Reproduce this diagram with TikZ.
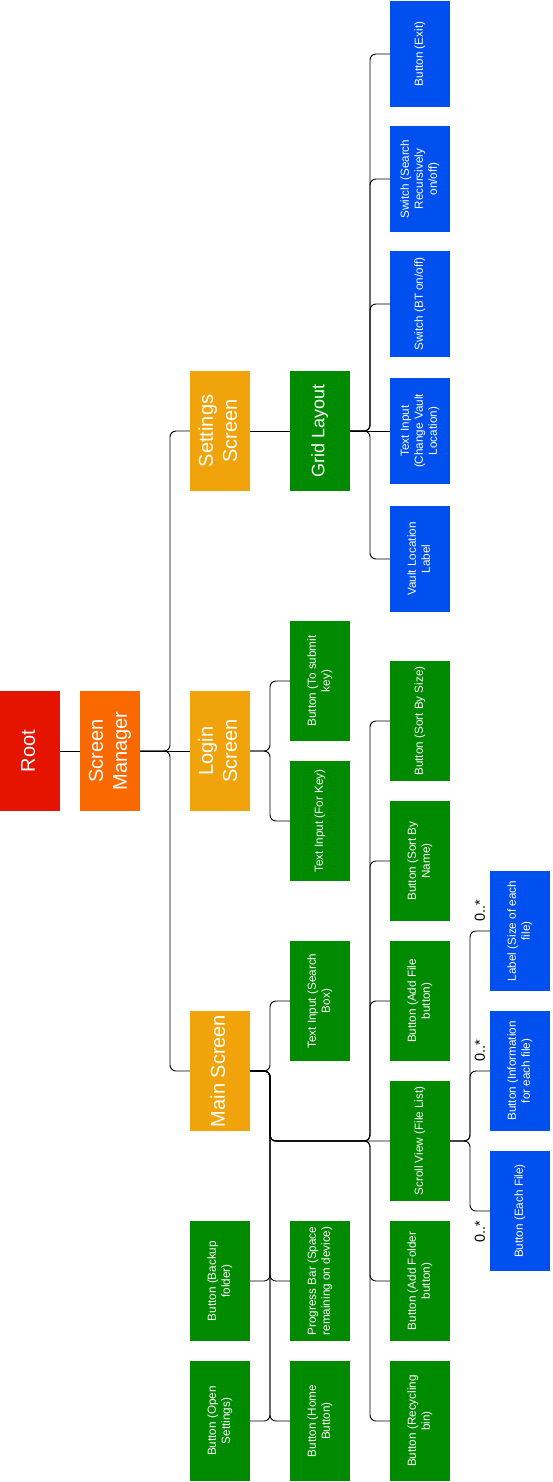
\documentclass[tikz,border=0pt]{standalone}
\usepackage{fontspec}
\setmainfont{Liberation Sans}
\usepackage{graphicx}
\definecolor{cRed}{HTML}{E51400}
\definecolor{cOrange}{HTML}{FA6800}
\definecolor{cAmber}{HTML}{F0A30A}
\definecolor{cGreen}{HTML}{008A00}
\definecolor{cBlue}{HTML}{0050EF}
\newcommand{\rtext}[1]{\rotatebox{90}{\begin{tabular}{@{}c@{}}#1\end{tabular}}}
\tikzset{
  box/.style={inner sep=0pt, outer sep=0pt, minimum width=60pt, minimum height=120pt, text=white, font=\fontsize{11.7}{14}\selectfont},
  short/.style={minimum height=106pt},
  big/.style={font=\fontsize{20}{24}\selectfont},
  mid/.style={font=\fontsize{18}{22}\selectfont},
  redbox/.style={box, fill=cRed},
  orangebox/.style={box, fill=cOrange},
  amberbox/.style={box, fill=cAmber},
  greenbox/.style={box, fill=cGreen},
  bluebox/.style={box, fill=cBlue},
  link/.style={draw=black, line width=0.9pt, rounded corners=6pt},
  mult/.style={inner sep=0pt, font=\fontsize{14.5}{17}\selectfont, text=black}
}
\begin{document}
\begin{tikzpicture}[x=1pt, y=-1pt]
\useasboundingbox (0,0) rectangle (552,1482);
% column 0/1
\node[redbox, big] (root) at (30,751) {\rtext{Root}};
\node[orangebox, big] (sm) at (110,751) {\rtext{Screen\\Manager}};
% column 2
\node[amberbox, big] (settings) at (220,431) {\rtext{Settings\\Screen}};
\node[amberbox, big] (login) at (220,751) {\rtext{Login\\Screen}};
\node[amberbox, big] (main) at (220,1071) {\rtext{Main Screen}};
\node[greenbox] (backup) at (220,1281) {\rtext{Button (Backup\\folder)}};
\node[greenbox] (opens) at (220,1421) {\rtext{Button (Open\\Settings)}};
% column 3
\node[greenbox, mid] (grid) at (320,431) {\rtext{Grid Layout}};
\node[greenbox] (submit) at (320,681) {\rtext{Button (To submit\\key)}};
\node[greenbox] (forkey) at (320,821) {\rtext{Text Input (For Key)}};
\node[greenbox] (search) at (320,1001) {\rtext{Text Input (Search\\Box)}};
\node[greenbox] (progress) at (320,1281) {\rtext{Progress Bar (Space\\remaining on device)}};
\node[greenbox] (home) at (320,1421) {\rtext{Button (Home\\Button)}};
% column 4
\node[bluebox, short] (exit) at (420,54) {\rtext{Button (Exit)}};
\node[bluebox, short] (swsearch) at (420,179) {\rtext{Switch (Search\\Recursively\\on/off)}};
\node[bluebox, short] (swbt) at (420,304) {\rtext{Switch (BT on/off)}};
\node[bluebox, short] (tvault) at (420,431) {\rtext{Text Input\\(Change Vault\\Location)}};
\node[bluebox, short] (lvault) at (420,559) {\rtext{Vault Location\\Label}};
\node[greenbox] (sortsize) at (420,721) {\rtext{Button (Sort By Size)}};
\node[greenbox] (sortname) at (420,861) {\rtext{Button (Sort By\\Name)}};
\node[greenbox] (addfile) at (420,1001) {\rtext{Button (Add File\\button)}};
\node[greenbox] (scroll) at (420,1141) {\rtext{Scroll View (File List)}};
\node[greenbox] (addfolder) at (420,1281) {\rtext{Button (Add Folder\\button)}};
\node[greenbox] (recycle) at (420,1421) {\rtext{Button (Recycling\\bin)}};
% column 5
\node[bluebox] (lsize) at (520,931) {\rtext{Label (Size of each\\file)}};
\node[bluebox] (info) at (520,1071) {\rtext{Button (Information\\for each file)}};
\node[bluebox] (each) at (520,1211) {\rtext{Button (Each File)}};
% multiplicities
\node[mult] (m1) at (480,911) {\rotatebox{90}{0..*}};
\node[mult] (m2) at (480,1051) {\rotatebox{90}{0..*}};
\node[mult] (m3) at (480,1232) {\rotatebox{90}{0..*}};
% connectors
\draw[link] (root.east) -- (sm.west);
\draw[link] (sm.east) -| ([xshift=-20pt]settings.west) -- (settings.west);
\draw[link] (sm.east) -- (login.west);
\draw[link] (sm.east) -| ([xshift=-20pt]main.west) -- (main.west);
\draw[link] (settings.east) -- (grid.west);
\foreach \c in {exit,swsearch,swbt,lvault}
  \draw[link] (grid.east) -| ([xshift=-20pt]\c.west) -- (\c.west);
\draw[link] (grid.east) -- (tvault.west);
\foreach \c in {submit,forkey}
  \draw[link] (login.east) -| ([xshift=-20pt]\c.west) -- (\c.west);
\foreach \c in {search,progress,home}
  \draw[link] (main.east) -| ([xshift=-20pt]\c.west) -- (\c.west);
\foreach \c in {backup,opens}
  \draw[link] (main.east) -| ([xshift=20pt]\c.east) -- (\c.east);
\draw[link] (main.east) -| ([xshift=-120pt]scroll.west) -- (scroll.west);
\foreach \c in {sortsize,sortname,addfile,addfolder,recycle}
  \draw[link] (main.east) -| ([xshift=-120pt]scroll.west) -| ([xshift=-20pt]\c.west) -- (\c.west);
\foreach \c in {lsize,info,each}
  \draw[link] (scroll.east) -| ([xshift=-20pt]\c.west) -- (\c.west);
\end{tikzpicture}
\end{document}
